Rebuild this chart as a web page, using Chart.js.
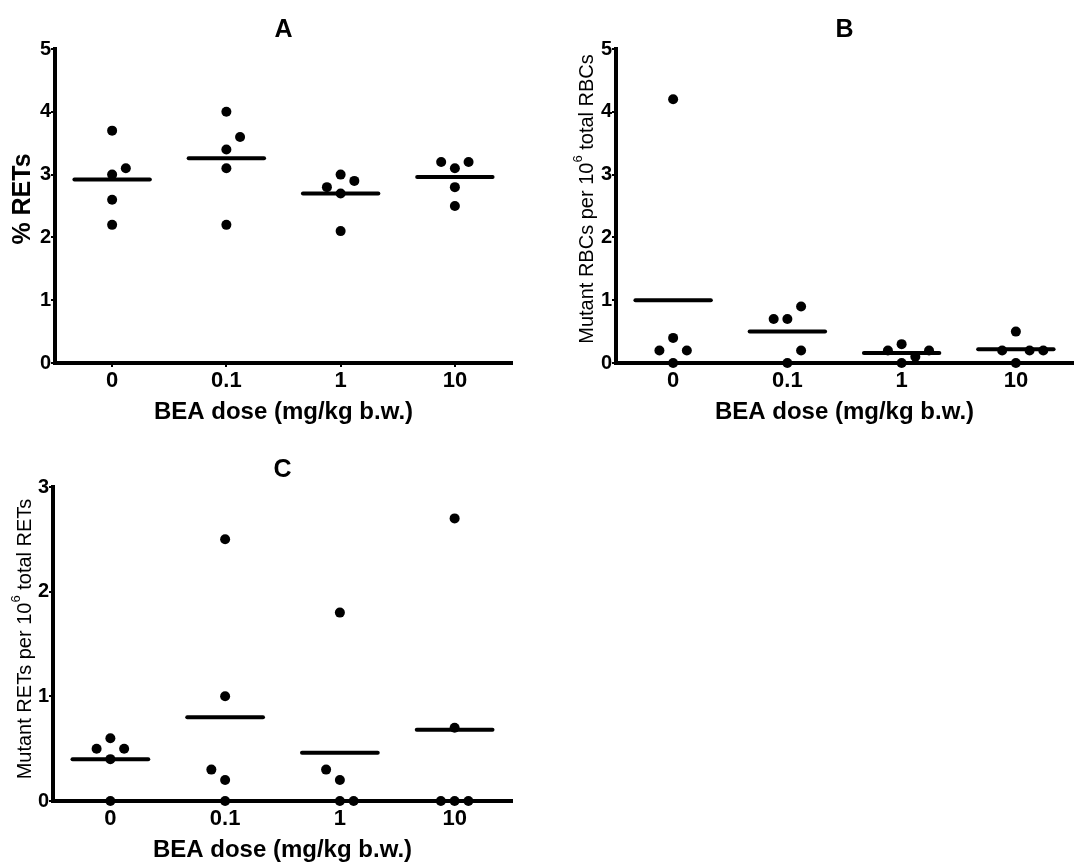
<!DOCTYPE html>
<html>
<head>
    <title>BEA dose panels</title>
    <script src="https://cdn.jsdelivr.net/npm/chart.js"></script>
    <style>
        body {
            margin: 0;
            background: #fff;
            overflow: hidden;
        }
        canvas {
            position: absolute;
        }
        #chartA { left: 0; top: 0; }
        #chartB { left: 540px; top: 0; }
        #chartC { left: 0; top: 430px; }
    </style>
</head>
<body>
    <canvas id="chartA" width="540" height="430"></canvas>
    <canvas id="chartB" width="538" height="430"></canvas>
    <canvas id="chartC" width="540" height="432"></canvas>

    <script>
        const doses = ['0', '0.1', '1', '10'];

        // A: % RETs, five animals per dose group
        const retPct = [
            [3.7, 3.1, 3.0, 2.6, 2.2],
            [4.0, 3.6, 3.4, 3.1, 2.2],
            [3.0, 2.9, 2.8, 2.7, 2.1],
            [3.2, 3.2, 3.1, 2.8, 2.5]
        ];
        const retPctMean = [2.92, 3.26, 2.70, 2.96];

        // B: mutant RBCs per 10^6 total RBCs
        const mutRbc = [
            [4.2, 0.4, 0.2, 0.2, 0],
            [0.9, 0.7, 0.7, 0.2, 0],
            [0.3, 0.2, 0.2, 0.1, 0],
            [0.5, 0.2, 0.2, 0.2, 0]
        ];
        const mutRbcMean = [1.0, 0.5, 0.16, 0.22];

        // C: mutant RETs per 10^6 total RETs
        const mutRet = [
            [0.6, 0.5, 0.5, 0.4, 0],
            [2.5, 1.0, 0.3, 0.2, 0],
            [1.8, 0.3, 0.2, 0, 0],
            [2.7, 0.7, 0, 0, 0]
        ];
        const mutRetMean = [0.4, 0.8, 0.46, 0.68];

        // dot-plot column of each point (-1 left, 0 centre, 1/2 right) so overlapping dots sit side by side
        const retPctCol = [[0, 1, 0, 0, 0], [0, 1, 0, 0, 0], [0, 1, -1, 0, 0], [-1, 1, 0, 0, 0]];
        const mutRbcCol = [[0, 0, -1, 1, 0], [1, -1, 0, 1, 0], [0, -1, 2, 1, 0], [0, -1, 1, 2, 0]];
        const mutRetCol = [[0, -1, 1, 0, 0], [0, 0, -1, 0, 0], [0, -1, 0, 0, 1], [0, 0, -1, 0, 1]];

        const COL_STEP = 0.12;
        const MEAN_HALF = 0.33;
        const FONT = "'Liberation Sans', Arial, sans-serif";

        Chart.defaults.font.family = FONT;
        Chart.defaults.color = '#000';

        // rotated y-axis title, with optional superscript pieces
        const yTitlePlugin = {
            id: 'yTitle',
            afterDraw(chart, args, opts) {
                const ctx = chart.ctx;
                const fontOf = p => opts.weight + ' ' + (p.sup ? opts.size * 0.65 : opts.size) + 'px ' + FONT;
                ctx.save();
                ctx.translate(opts.x, opts.y);
                ctx.rotate(-Math.PI / 2);
                ctx.fillStyle = '#000';
                ctx.textBaseline = 'middle';
                ctx.textAlign = 'left';
                let total = 0;
                const widths = opts.parts.map(p => {
                    ctx.font = fontOf(p);
                    const w = ctx.measureText(p.text).width;
                    total += w;
                    return w;
                });
                let cur = -total / 2;
                opts.parts.forEach((p, i) => {
                    ctx.font = fontOf(p);
                    ctx.fillText(p.text, cur, p.sup ? -opts.size * 0.45 : 0);
                    cur += widths[i];
                });
                ctx.restore();
            }
        };

        function makePanel(id, cfg) {
            const dots = [];
            cfg.values.forEach((group, g) => {
                group.forEach((v, k) => {
                    dots.push({ x: g + cfg.cols[g][k] * COL_STEP, y: v });
                });
            });

            const datasets = [{
                data: dots,
                pointRadius: 5,
                pointHoverRadius: 5,
                backgroundColor: '#000',
                borderWidth: 0,
                clip: false
            }];

            cfg.means.forEach((m, g) => {
                datasets.push({
                    data: [{ x: g - MEAN_HALF, y: m }, { x: g + MEAN_HALF, y: m }],
                    showLine: true,
                    borderColor: '#000',
                    borderWidth: 4,
                    borderCapStyle: 'round',
                    pointRadius: 0,
                    clip: false
                });
            });

            const tickGrid = {
                display: true,
                drawOnChartArea: false,
                drawTicks: true,
                tickLength: 4,
                lineWidth: 2,
                color: '#000'
            };
            const axisBorder = { display: true, width: 4, color: '#000' };

            new Chart(document.getElementById(id), {
                type: 'scatter',
                data: { datasets: datasets },
                options: {
                    responsive: false,
                    animation: false,
                    devicePixelRatio: 1,
                    layout: {
                        padding: { left: 0, top: 0, right: cfg.padRight, bottom: 0 }
                    },
                    plugins: {
                        legend: { display: false },
                        tooltip: { enabled: false },
                        title: {
                            display: true,
                            text: cfg.title,
                            fullSize: false,
                            font: { size: 25, weight: 'bold', lineHeight: 1 },
                            padding: cfg.titlePad,
                            color: '#000'
                        },
                        yTitle: cfg.yTitle
                    },
                    scales: {
                        x: {
                            type: 'linear',
                            position: 'bottom',
                            min: -0.5,
                            max: 3.5,
                            afterBuildTicks: s => {
                                s.ticks = doses.map((d, i) => ({ value: i }));
                            },
                            afterFit: s => { s.height = cfg.xHeight; },
                            ticks: {
                                callback: v => doses[v],
                                font: { size: 22, weight: 'bold' },
                                padding: 1,
                                maxRotation: 0
                            },
                            grid: tickGrid,
                            border: axisBorder,
                            title: {
                                display: true,
                                text: 'BEA dose (mg/kg b.w.)',
                                font: { size: 24, weight: 'bold', lineHeight: 1 },
                                padding: { top: 0, bottom: cfg.xTitlePad }
                            }
                        },
                        y: {
                            min: 0,
                            max: cfg.yMax,
                            afterFit: s => { s.width = cfg.yWidth; },
                            ticks: {
                                stepSize: 1,
                                font: { size: 20, weight: 'bold' },
                                padding: 0
                            },
                            grid: tickGrid,
                            border: axisBorder
                        }
                    }
                },
                plugins: [yTitlePlugin]
            });
        }

        makePanel('chartA', {
            title: 'A',
            values: retPct,
            means: retPctMean,
            cols: retPctCol,
            yMax: 5,
            yWidth: 55,
            xHeight: 67,
            padRight: 28,
            titlePad: { top: 17.5, bottom: 6.5 },
            xTitlePad: 6,
            yTitle: { x: 23, y: 199, size: 25, weight: 'bold', parts: [{ text: '% RETs' }] }
        });

        makePanel('chartB', {
            title: 'B',
            values: mutRbc,
            means: mutRbcMean,
            cols: mutRbcCol,
            yMax: 5,
            yWidth: 76,
            xHeight: 67,
            padRight: 0,
            titlePad: { top: 17.5, bottom: 6.5 },
            xTitlePad: 6,
            yTitle: {
                x: 47, y: 199, size: 20, weight: 'normal',
                parts: [{ text: 'Mutant RBCs per 10' }, { text: '6', sup: true }, { text: ' total RBCs' }]
            }
        });

        makePanel('chartC', {
            title: 'C',
            values: mutRet,
            means: mutRetMean,
            cols: mutRetCol,
            yMax: 3,
            yWidth: 53,
            xHeight: 61,
            padRight: 28,
            titlePad: { top: 27.5, bottom: 4.5 },
            xTitlePad: 0,
            yTitle: {
                x: 25, y: 209, size: 20, weight: 'normal',
                parts: [{ text: 'Mutant RETs per 10' }, { text: '6', sup: true }, { text: ' total RETs' }]
            }
        });
    </script>
</body>
</html>
